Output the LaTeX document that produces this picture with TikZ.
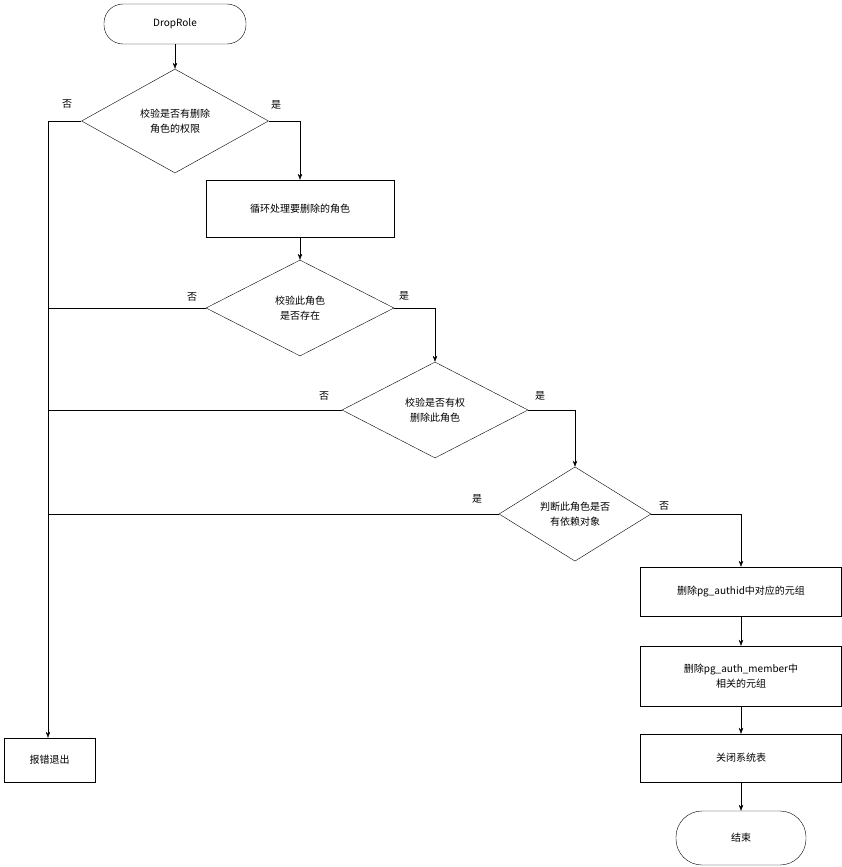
\documentclass[tikz,border=0pt]{standalone}
\usepackage{fontspec}
\setmainfont{Noto Sans CJK SC}
\usetikzlibrary{shapes.geometric,arrows.meta}
\begin{document}
\begin{tikzpicture}[x=1pt,y=-1pt,
 every node/.style={font=\fontsize{10}{15}\selectfont,align=center},
 box/.style={draw,thin,inner sep=0pt},
 dia/.style={draw,thin,diamond,inner sep=0pt},
 term/.style={draw,thin,rounded rectangle,inner sep=0pt},
 arr/.style={-{Stealth[length=6pt,width=4.5pt]},thin},
 lbl/.style={inner sep=0pt}]
\useasboundingbox (0,0) rectangle (842,867);
\node[draw,thin,rounded corners=19pt,minimum width=142pt,minimum height=40pt] (start) at (175,24) {DropRole};
\node[dia,minimum width=187pt,minimum height=104pt] (d1) at (175,121) {校验是否有删除\\角色的权限};
\node[box,minimum width=188pt,minimum height=57pt] (loop) at (300,208.5) {循环处理要删除的角色};
\node[dia,minimum width=188pt,minimum height=96pt] (d2) at (300,308) {校验此角色\\是否存在};
\node[dia,minimum width=186pt,minimum height=96pt] (d3) at (435,410) {校验是否有权\\删除此角色};
\node[dia,minimum width=152pt,minimum height=94pt] (d4) at (575,514) {判断此角色是否\\有依赖对象};
\node[box,minimum width=91pt,minimum height=44pt] (err) at (49.5,760) {报错退出};
\node[box,minimum width=201pt,minimum height=49pt] (b5) at (741,591.5) {删除pg\_authid中对应的元组};
\node[box,minimum width=201pt,minimum height=60pt] (b6) at (741,676) {删除pg\_auth\_member中\\相关的元组};
\node[box,minimum width=201pt,minimum height=48pt] (b7) at (741,758) {关闭系统表};
\node[draw,thin,rounded corners=26pt,minimum width=130pt,minimum height=54pt] (end) at (741,838) {结束};
\coordinate (lx) at (48,0);
\draw[arr] (start) -- (d1);
\draw[arr] (d1.west) -- (48,121) -- (err.north -| 48,0);
\draw (d2.west) -- (48,308);
\draw (d3.west) -- (48,410);
\draw (d4.west) -- (48,514);
\draw[arr] (d1.east) -| (loop.north);
\draw[arr] (loop) -- (d2);
\draw[arr] (d2.east) -| (d3.north);
\draw[arr] (d3.east) -| (d4.north);
\draw[arr] (d4.east) -| (b5.north);
\draw[arr] (b5) -- (b6);
\draw[arr] (b6) -- (b7);
\draw[arr] (b7) -- (end);
\node[lbl] (n1) at (67,104) {否};
\node[lbl] (y1) at (276,105) {是};
\node[lbl] (n2) at (192,297) {否};
\node[lbl] (y2) at (404,296) {是};
\node[lbl] (n3) at (324,396) {否};
\node[lbl] (y3) at (540,396) {是};
\node[lbl] (y4) at (477,499) {是};
\node[lbl] (n4) at (664,506) {否};
\end{tikzpicture}
\end{document}
